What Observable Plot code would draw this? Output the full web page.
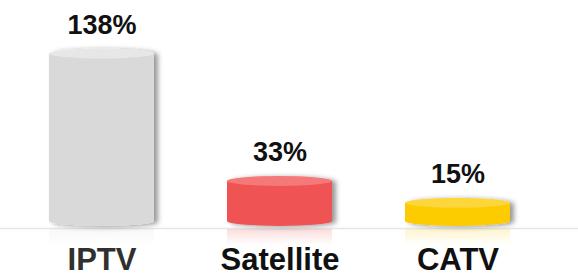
<!DOCTYPE html>
<html><head><meta charset="utf-8">
<script src="https://cdn.jsdelivr.net/npm/d3@7"></script>
<script src="https://cdn.jsdelivr.net/npm/@observablehq/plot@0.6"></script>
<style>body{margin:0;background:#fff}</style>
</head><body><div id="chart"></div>
<script>
const categories = ["IPTV", "Satellite", "CATV"];
const values = [138, 33, 15];
const valueLabels = ["138%", "33%", "15%"];
const bodyColors = ["#d9d9d9", "#f05252", "#fccb06"];
const topColors = ["#e7e7e7", "#f47a7a", "#fdd63a"];
const labelColors = ["#303030", "#111111", "#111111"];

const data = categories.map((c, i) => ({
  category: c, value: values[i], label: valueLabels[i],
  body: bodyColors[i], top: topColors[i], labelColor: labelColors[i]
}));

const RY = 5;
const plot = Plot.plot({
  width: 578, height: 278,
  marginTop: 39, marginBottom: 57, marginLeft: 13, marginRight: 31,
  x: {type: "band", domain: categories, paddingInner: 0.41, paddingOuter: 0.2, axis: null},
  y: {domain: [0, 150], axis: null},
  color: {type: "identity"},
  style: {background: "#fff", fontFamily: "'Liberation Sans', Arial, sans-serif"},
  marks: [
    Plot.ruleY([0], {stroke: "#e6e6e6", strokeWidth: 1.5, dy: 7, insetLeft: -13, insetRight: -31}),
    Plot.barY(data, {x: "category", y: "value", fill: "body"}),
    Plot.text(data, {x: "category", y: "value", text: "label", lineAnchor: "bottom", dy: -20,
      fontSize: 27, fontWeight: "bold", fill: "#111"}),
    Plot.text(data, {x: "category", y: 0, text: "category", lineAnchor: "top", dy: 26,
      fontSize: 31, fontWeight: "bold", fill: "labelColor"})
  ]
});

const svg = d3.select(plot);
const defs = svg.insert("defs", ":first-child");
const f = defs.append("filter").attr("id", "shadow").attr("x", "-20%").attr("y", "-20%").attr("width", "150%").attr("height", "150%");
f.append("feDropShadow").attr("dx", 4).attr("dy", 1).attr("stdDeviation", 2.5)
  .attr("flood-color", "#000").attr("flood-opacity", 0.4);

const barGroup = svg.selectAll('g[aria-label="bar"]');
barGroup.attr("filter", "url(#shadow)");
const rects = barGroup.selectAll("rect").nodes();
rects.forEach((r, i) => {
  const x = +r.getAttribute("x"), y = +r.getAttribute("y");
  const w = +r.getAttribute("width"), h = +r.getAttribute("height");
  const g = d3.select(r.parentNode);
  const d = data[i];
  // faint reflection below the baseline
  const gid = "refl" + i;
  const lg = defs.append("linearGradient").attr("id", gid).attr("x1", 0).attr("y1", 0).attr("x2", 0).attr("y2", 1);
  lg.append("stop").attr("offset", "0%").attr("stop-color", d.body).attr("stop-opacity", 0.2);
  lg.append("stop").attr("offset", "100%").attr("stop-color", d.body).attr("stop-opacity", 0);
  svg.insert("rect", 'g[aria-label="bar"]').attr("x", x).attr("y", y + h + RY + 3).attr("width", w)
    .attr("height", 16).attr("fill", `url(#${gid})`);
  // bottom ellipse
  g.insert("ellipse", () => r).attr("cx", x + w / 2).attr("cy", y + h).attr("rx", w / 2).attr("ry", RY).attr("fill", d.body);
  // top ellipse
  g.append("ellipse").attr("cx", x + w / 2).attr("cy", y).attr("rx", w / 2).attr("ry", RY).attr("fill", d.top);
});

document.getElementById("chart").append(plot);
</script>
</body></html>
